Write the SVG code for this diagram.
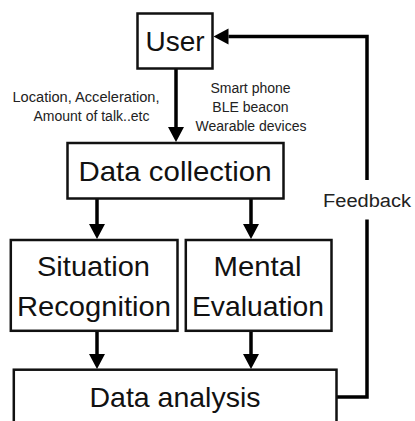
<svg xmlns="http://www.w3.org/2000/svg" width="415" height="421" viewBox="0 0 415 421">
<style>
.box{fill:#fff;stroke:#111;stroke-width:2.5}
.big{font-family:"Liberation Sans",Arial,sans-serif;font-size:28px;fill:#111;text-anchor:middle}
.small{font-family:"Liberation Sans",Arial,sans-serif;font-size:14px;fill:#222;text-anchor:middle}
.fb{font-family:"Liberation Sans",Arial,sans-serif;font-size:18px;fill:#222;text-anchor:middle}
.conn{fill:none;stroke:#000;stroke-width:3.5}
</style>
<defs>
<marker id="ah" markerUnits="userSpaceOnUse" markerWidth="16" markerHeight="16" refX="0" refY="8" orient="auto" overflow="visible">
<path d="M0,0 L15,8 L0,16 z" fill="#000"/>
</marker>
</defs>
<rect width="415" height="421" fill="#fff"/>
<g id="connectors">
<path class="conn" d="M176 68 V127" marker-end="url(#ah)"/>
<path class="conn" d="M97 199 V224" marker-end="url(#ah)"/>
<path class="conn" d="M251 199 V224" marker-end="url(#ah)"/>
<path class="conn" d="M97 331 V354" marker-end="url(#ah)"/>
<path class="conn" d="M251 331 V354" marker-end="url(#ah)"/>
<path class="conn" d="M336.5 397 H367 V219.5"/>
<path class="conn" d="M367 180 V36.5 H228.5" marker-end="url(#ah)"/>
<text class="fb" x="367" y="206.5" textLength="88" lengthAdjust="spacingAndGlyphs">Feedback</text>
<text class="small" x="86" y="101.5" textLength="147" lengthAdjust="spacingAndGlyphs">Location, Acceleration,</text>
<text class="small" x="91.5" y="120.5">Amount of talk..etc</text>
<text class="small" x="250.5" y="92.5">Smart phone</text>
<text class="small" x="250.5" y="111.5">BLE beacon</text>
<text class="small" x="251" y="130.5">Wearable devices</text>
</g>
<g id="user">
<rect class="box" x="137.5" y="13.5" width="75" height="55"/>
<text class="big" x="175" y="51">User</text>
</g>
<g id="data-collection">
<rect class="box" x="67.5" y="143" width="216" height="55.5"/>
<text class="big" x="175" y="181" textLength="193" lengthAdjust="spacingAndGlyphs">Data collection</text>
</g>
<g id="situation-recognition">
<rect class="box" x="10.8" y="240" width="166.7" height="90.8"/>
<text class="big" x="93.5" y="276" textLength="113" lengthAdjust="spacingAndGlyphs">Situation</text>
<text class="big" x="94" y="316" textLength="154" lengthAdjust="spacingAndGlyphs">Recognition</text>
</g>
<g id="mental-evaluation">
<rect class="box" x="185.8" y="240" width="145.7" height="90.8"/>
<text class="big" x="257.5" y="276" textLength="88" lengthAdjust="spacingAndGlyphs">Mental</text>
<text class="big" x="258" y="316" textLength="132" lengthAdjust="spacingAndGlyphs">Evaluation</text>
</g>
<g id="data-analysis">
<rect class="box" x="13.8" y="369.7" width="322.7" height="70"/>
<text class="big" x="175" y="407" textLength="171" lengthAdjust="spacingAndGlyphs">Data analysis</text>
</g>
</svg>
